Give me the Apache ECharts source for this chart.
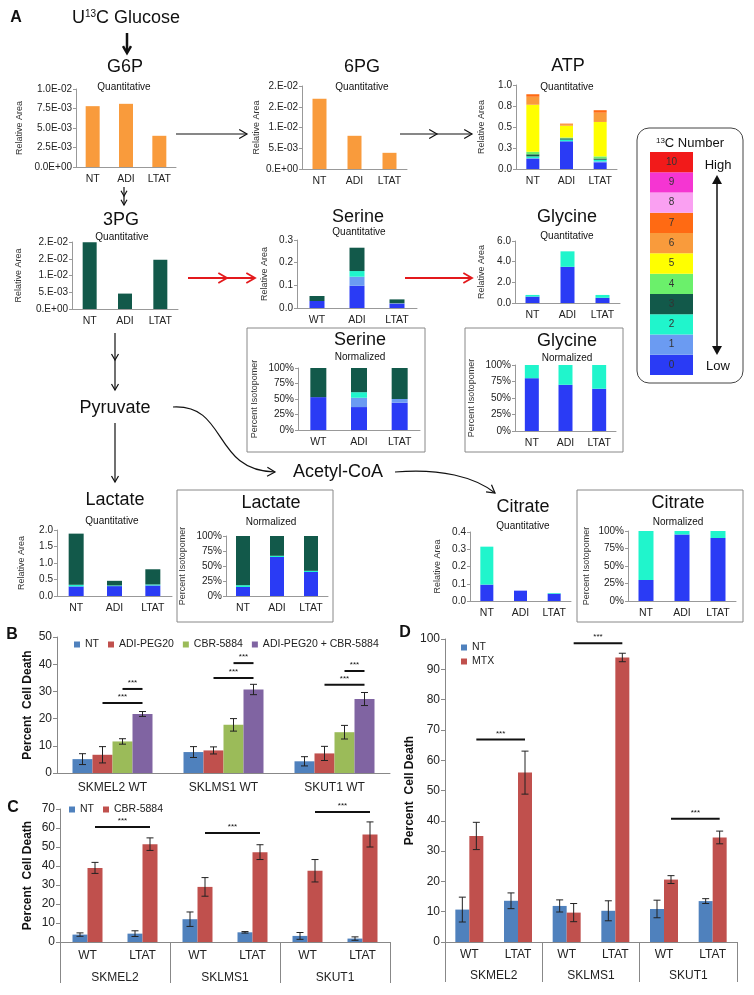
<!DOCTYPE html>
<html><head><meta charset="utf-8">
<script src="https://cdn.jsdelivr.net/npm/echarts@6/dist/echarts.min.js"></script>
<style>html,body{margin:0;padding:0;background:#fff}#c{width:754px;height:995px}</style>
</head><body><div id="c"></div>
<script>
// ---------- DATA ----------
const metCats = ['NT', 'ADI', 'LTAT'];
const serCats = ['WT', 'ADI', 'LTAT'];
const isoNumbers = [0, 1, 2, 3, 4, 5, 6, 7, 8, 9, 10];

const g6pArea = [7.8e-3, 8.1e-3, 4.0e-3];
const pg6Area = [0.0169, 0.0080, 0.0039];
const pg3Area = [0.0199, 0.0046, 0.0147];

const atpM0 = [0.12, 0.33, 0.08];
const atpM1 = [0.01, 0.0, 0.01];
const atpM2 = [0.02, 0.02, 0.02];
const atpM3 = [0.025, 0.015, 0.015];
const atpM4 = [0.03, 0.01, 0.025];
const atpM5 = [0.56, 0.14, 0.41];
const atpM6 = [0.095, 0.02, 0.11];
const atpM7 = [0.03, 0.005, 0.03];

const serM0 = [0.031, 0.098, 0.019];
const serM1 = [0.0, 0.040, 0.002];
const serM2 = [0.0, 0.025, 0.0];
const serM3 = [0.022, 0.103, 0.017];
const serN0 = [53, 37, 44];
const serN1 = [0, 15, 6];
const serN2 = [0, 9, 0];
const serN3 = [47, 39, 50];

const glyM0 = [0.62, 3.5, 0.5];
const glyM2 = [0.16, 1.5, 0.28];
const glyN0 = [80, 70, 64];
const glyN2 = [20, 30, 36];

const lacM0 = [0.29, 0.30, 0.32];
const lacM2 = [0.05, 0.02, 0.03];
const lacM3 = [1.55, 0.14, 0.46];
const lacN0 = [15, 65, 40];
const lacN2 = [3, 2, 2];
const lacN3 = [82, 33, 58];

const citM0 = [0.095, 0.06, 0.042];
const citM2 = [0.22, 0.0, 0.004];
const citN0 = [30, 95, 90];
const citN2 = [70, 5, 10];

// Panel B
const cellLinesB = ['SKMEL2 WT', 'SKLMS1 WT', 'SKUT1 WT'];
const bNT = [5.1, 7.7, 4.3],      bNTerr = [2.0, 2.0, 1.7];
const bADI = [6.7, 8.3, 7.2],     bADIerr = [3.0, 1.3, 2.6];
const bCBR = [11.6, 17.7, 15.0],  bCBRerr = [1.0, 2.3, 2.5];
const bCombo = [21.7, 30.7, 27.2], bComboErr = [0.9, 1.9, 2.4];
const sigB = [[0,1,0,3,25.7],[0,2,0,3,30.9],[1,1,1,3,34.9],[1,2,1,3,40.4],[2,1,2,3,32.4],[2,2,2,3,37.5]];

// Panels C, D
const genotypes = ['WT', 'LTAT', 'WT', 'LTAT', 'WT', 'LTAT'];
const cellLines = ['SKMEL2', 'SKLMS1', 'SKUT1'];
const cNT = [3.9, 4.4, 12.0, 5.1, 3.2, 1.8],     cNTerr = [0.9, 1.5, 3.8, 0.4, 1.8, 0.9];
const cCBR = [39.0, 51.5, 29.0, 47.3, 37.5, 56.6], cCBRerr = [2.9, 3.3, 4.9, 3.9, 5.9, 6.6];
const sigC = [[0,1,1,1,60.5],[2,1,3,1,57.4],[4,1,5,1,68.4]];
const dNT = [10.7, 13.6, 11.9, 10.3, 10.9, 13.5],  dNTerr = [4.1, 2.6, 2.0, 3.3, 2.9, 0.8];
const dMTX = [35.0, 55.9, 9.7, 93.9, 20.6, 34.5],  dMTXerr = [4.5, 7.1, 3.0, 1.4, 1.3, 2.1];
const sigD = [[0,1,1,1,66.8],[2,1,3,1,98.6],[4,1,5,1,40.7]];

// ---------- STYLE ----------
const FONT = '"Liberation Sans", Arial, Helvetica, sans-serif';
const isoColors = ['#2A3BF5','#6B9BF2','#20F5CC','#12594A','#6BF06B','#FFFF00','#F99B3C','#FF6A13','#FAA0F2','#F535D2','#F21A1A'];
const cBlue = '#4F81BD', cRed = '#C0504D', cGreen = '#9BBB59', cPurple = '#8064A2';

function fmtE(v, d) {
  if (Math.abs(v) < 1e-12) return (d ? (0).toFixed(d) : '0.') + 'E+00';
  let e = Math.floor(Math.log10(Math.abs(v)) + 1e-9);
  let m = v / Math.pow(10, e);
  let r = Math.round(m * Math.pow(10, d) + 1e-9) / Math.pow(10, d);
  if (r >= 10) { r /= 10; e++; }
  const ms = d ? r.toFixed(d) : r + '.';
  return ms + 'E' + (e < 0 ? '-' : '+') + String(Math.abs(e)).padStart(2, '0');
}
const F = {
  e1: v => fmtE(v, 1), e0: v => fmtE(v, 0), f1: v => v.toFixed(1), pct: v => Math.round(v) + '%'
};

const gridDefs = [
  [76, 89, 100, 78],   // 0 G6P
  [302, 86, 105, 83],  // 1 6PG
  [516, 85, 101, 84],  // 2 ATP
  [72, 242, 106, 67],  // 3 3PG
  [297, 240, 120, 68], // 4 Serine Q
  [515, 241, 105, 62], // 5 Glycine Q
  [298, 368, 122, 62], // 6 Serine N
  [515, 365, 101, 66], // 7 Glycine N
  [57, 530, 115, 66],  // 8 Lactate Q
  [226, 536, 102, 60], // 9 Lactate N
  [470, 532, 101, 69], // 10 Citrate Q
  [628, 531, 108, 70], // 11 Citrate N
  [57, 637, 333, 136], // 12 B
  [60, 809, 330, 133], // 13 C
  [445, 639, 292, 303],// 14 D
  [650, 152, 43, 223]  // 15 iso key
];

const RA = 'Relative Area', PI = 'Percent Isotopomer';
const aCharts = [
  {cats: metCats, min: 0, max: 0.01, step: 0.0025, fmt: F.e1, name: RA, gap: 51.5, bw: 14, layers: [[6, g6pArea]]},
  {cats: metCats, min: 0, max: 0.02, step: 0.005, fmt: F.e0, name: RA, gap: 40.5, bw: 14, layers: [[6, pg6Area]]},
  {cats: metCats, min: 0, max: 1.0, step: 0.25, fmt: F.f1, name: RA, gap: 29.5, bw: 13,
    layers: [[0, atpM0],[1, atpM1],[2, atpM2],[3, atpM3],[4, atpM4],[5, atpM5],[6, atpM6],[7, atpM7]]},
  {cats: metCats, min: 0, max: 0.02, step: 0.005, fmt: F.e0, name: RA, gap: 48.5, bw: 14, layers: [[3, pg3Area]]},
  {cats: serCats, min: 0, max: 0.3, step: 0.1, fmt: F.f1, name: RA, gap: 27.5, bw: 15,
    layers: [[0, serM0],[1, serM1],[2, serM2],[3, serM3]]},
  {cats: metCats, min: 0, max: 6, step: 2, fmt: F.f1, name: RA, gap: 28.5, bw: 14, layers: [[0, glyM0],[2, glyM2]]},
  {cats: serCats, min: 0, max: 100, step: 25, fmt: F.pct, name: PI, gap: 38.5, bw: 16,
    layers: [[0, serN0],[1, serN1],[2, serN2],[3, serN3]]},
  {cats: metCats, min: 0, max: 100, step: 25, fmt: F.pct, name: PI, gap: 38.5, bw: 14, layers: [[0, glyN0],[2, glyN2]]},
  {cats: metCats, min: 0, max: 2, step: 0.5, fmt: F.f1, name: RA, gap: 30.5, bw: 15, layers: [[0, lacM0],[2, lacM2],[3, lacM3]]},
  {cats: metCats, min: 0, max: 100, step: 25, fmt: F.pct, name: PI, gap: 38.5, bw: 14, layers: [[0, lacN0],[2, lacN2],[3, lacN3]]},
  {cats: metCats, min: 0, max: 0.4, step: 0.1, fmt: F.f1, name: RA, gap: 27.5, bw: 13, layers: [[0, citM0],[2, citM2]]},
  {cats: metCats, min: 0, max: 100, step: 25, fmt: F.pct, name: PI, gap: 36.5, bw: 15, layers: [[0, citN0],[2, citN2]]}
];

const grids = gridDefs.map(g => ({left: g[0], top: g[1], width: g[2], height: g[3], containLabel: false}));
const xAxes = [], yAxes = [], series = [];

aCharts.forEach((c, i) => {
  xAxes.push({gridIndex: i, type: 'category', data: c.cats,
    axisLine: {lineStyle: {color: '#999'}}, axisTick: {length: 3, lineStyle: {color: '#999'}},
    axisLabel: {fontSize: 10.5, color: '#222', margin: 7}});
  yAxes.push({gridIndex: i, type: 'value', min: c.min, max: c.max, interval: c.step,
    name: c.name, nameLocation: 'middle', nameRotate: 90, nameGap: c.gap,
    nameTextStyle: {fontSize: 9, color: '#333'},
    axisLine: {show: true, lineStyle: {color: '#999'}}, axisTick: {show: true, length: 3, lineStyle: {color: '#999'}},
    splitLine: {show: false}, axisLabel: {fontSize: 10, color: '#222', margin: 4, formatter: c.fmt}});
  c.layers.forEach(([k, arr]) => series.push({type: 'bar', name: 'iso' + i + '_' + k, xAxisIndex: i, yAxisIndex: i,
    stack: 's' + i, data: arr, barWidth: c.bw, itemStyle: {color: isoColors[k]}}));
});

function bigY(gi, max, gap) {
  return {gridIndex: gi, type: 'value', min: 0, max: max, interval: 10,
    name: 'Percent  Cell Death', nameLocation: 'middle', nameRotate: 90, nameGap: gap,
    nameTextStyle: {fontSize: 12, fontWeight: 'bold', color: '#111'},
    axisLine: {show: true, lineStyle: {color: '#888'}}, axisTick: {show: true, length: 4, lineStyle: {color: '#888'}},
    splitLine: {show: false}, axisLabel: {fontSize: 12, color: '#222', margin: 5}};
}
// B
xAxes.push({gridIndex: 12, type: 'category', data: cellLinesB, axisLine: {lineStyle: {color: '#888'}},
  axisTick: {length: 3, lineStyle: {color: '#888'}}, axisLabel: {fontSize: 12, color: '#222', margin: 9}});
yAxes.push(bigY(12, 50, 23));
// C
xAxes.push({gridIndex: 13, type: 'category', data: genotypes, axisLine: {lineStyle: {color: '#888'}},
  axisTick: {length: 20, interval: 0, lineStyle: {color: '#888'}}, axisLabel: {fontSize: 12, color: '#222', margin: 8}});
yAxes.push(bigY(13, 70, 26));
// D
xAxes.push({gridIndex: 14, type: 'category', data: genotypes, axisLine: {lineStyle: {color: '#888'}},
  axisTick: {length: 20, interval: 0, lineStyle: {color: '#888'}}, axisLabel: {fontSize: 12, color: '#222', margin: 7}});
yAxes.push(bigY(14, 100, 17));
// iso key
xAxes.push({gridIndex: 15, type: 'value', min: 0, max: 1, show: false});
yAxes.push({gridIndex: 15, type: 'category', data: isoNumbers.map(String), show: false});
// group axes
xAxes.push({gridIndex: 13, type: 'category', data: cellLines, position: 'bottom', axisLine: {show: false},
  axisTick: {show: true, length: 41, interval: 0, lineStyle: {color: '#888'}}, axisLabel: {fontSize: 12, color: '#222', margin: 30}});
xAxes.push({gridIndex: 14, type: 'category', data: cellLines, position: 'bottom', axisLine: {show: false},
  axisTick: {show: true, length: 40, interval: 0, lineStyle: {color: '#888'}}, axisLabel: {fontSize: 12, color: '#222', margin: 28}});

series.push({type: 'bar', xAxisIndex: 15, yAxisIndex: 15, barCategoryGap: 0, silent: true,
  data: isoNumbers.map((n, i) => ({value: 1, itemStyle: {color: isoColors[i]}})),
  label: {show: true, position: 'inside', formatter: p => p.name, fontSize: 10, color: '#333'}});

function errSeries(ax, vals, errs, off) {
  return {type: 'custom', xAxisIndex: ax, yAxisIndex: ax, z: 10, silent: true,
    data: vals.map((v, i) => [i, v, errs[i]]), encode: {x: 0, y: 1},
    renderItem: (p, api) => {
      const i = api.value(0), v = api.value(1), e = api.value(2);
      const t = api.coord([i, v + e]), b = api.coord([i, v - e]);
      const x = t[0] + off, st = {stroke: '#222', lineWidth: 1};
      return {type: 'group', children: [
        {type: 'line', shape: {x1: x, y1: t[1], x2: x, y2: b[1]}, style: st},
        {type: 'line', shape: {x1: x - 3.5, y1: t[1], x2: x + 3.5, y2: t[1]}, style: st},
        {type: 'line', shape: {x1: x - 3.5, y1: b[1], x2: x + 3.5, y2: b[1]}, style: st}]};
    }};
}
function sigSeries(ax, rows, offs) {
  return {type: 'custom', xAxisIndex: ax, yAxisIndex: ax, z: 10, silent: true, clip: false,
    data: rows, encode: {x: [0, 2], y: 4},
    renderItem: (p, api) => {
      const y = api.value(4);
      const a = api.coord([api.value(0), y]), b = api.coord([api.value(2), y]);
      const x1 = a[0] + offs[api.value(1)], x2 = b[0] + offs[api.value(3)];
      return {type: 'group', children: [
        {type: 'line', shape: {x1: x1, y1: a[1], x2: x2, y2: a[1]}, style: {stroke: '#111', lineWidth: 2}},
        {type: 'text', x: (x1 + x2) / 2, y: a[1] - 2, style: {text: '***', fontSize: 8, fontFamily: FONT, fill: '#111',
          align: 'center', verticalAlign: 'bottom', textAlign: 'center', textVerticalAlign: 'bottom'}}]};
    }};
}
function bars(ax, name, data, color, bw) {
  return {type: 'bar', name: name, xAxisIndex: ax, yAxisIndex: ax, data: data, barWidth: bw, barGap: '0%', itemStyle: {color: color}};
}
// B series
const offB = [-30, -10, 10, 30];
series.push(bars(12, 'NT#B', bNT, cBlue, 20), bars(12, 'ADI-PEG20#B', bADI, cRed, 20),
  bars(12, 'CBR-5884#B', bCBR, cGreen, 20), bars(12, 'ADI-PEG20 + CBR-5884#B', bCombo, cPurple, 20));
series.push(errSeries(12, bNT, bNTerr, offB[0]), errSeries(12, bADI, bADIerr, offB[1]),
  errSeries(12, bCBR, bCBRerr, offB[2]), errSeries(12, bCombo, bComboErr, offB[3]), sigSeries(12, sigB, offB));
// C series
const offC = [-7.5, 7.5];
series.push(bars(13, 'NT#C', cNT, cBlue, 15), bars(13, 'CBR-5884#C', cCBR, cRed, 15));
series.push(errSeries(13, cNT, cNTerr, offC[0]), errSeries(13, cCBR, cCBRerr, offC[1]), sigSeries(13, sigC, offC));
// D series
const offD = [-7, 7];
series.push(bars(14, 'NT#D', dNT, cBlue, 14), bars(14, 'MTX#D', dMTX, cRed, 14));
series.push(errSeries(14, dNT, dNTerr, offD[0]), errSeries(14, dMTX, dMTXerr, offD[1]), sigSeries(14, sigD, offD));

const legStyle = {icon: 'rect', itemWidth: 6, itemHeight: 6, textStyle: {fontSize: 10.5, color: '#222'},
  formatter: n => n.split('#')[0], selectedMode: false};
const legends = [
  Object.assign({}, legStyle, {left: 69, top: 634, itemGap: 9, data: ['NT#B', 'ADI-PEG20#B', 'CBR-5884#B', 'ADI-PEG20 + CBR-5884#B']}),
  Object.assign({}, legStyle, {left: 64, top: 799, itemGap: 9, data: ['NT#C', 'CBR-5884#C']}),
  Object.assign({}, legStyle, {left: 456, top: 637, orient: 'vertical', itemGap: 3, data: ['NT#D', 'MTX#D']})
];

// ---------- GRAPHIC (titles, arrows, boxes) ----------
function txt(x, y, s, size, extra) {
  return {type: 'text', x: x, y: y, silent: true, z: 20,
    style: Object.assign({text: s, fontSize: size, fontFamily: FONT, fill: '#111',
      align: 'center', verticalAlign: 'middle', textAlign: 'center', textVerticalAlign: 'middle'}, extra || {})};
}
function ln(x1, y1, x2, y2, col, w) {
  return {type: 'line', silent: true, shape: {x1: x1, y1: y1, x2: x2, y2: y2}, style: {stroke: col || '#111', lineWidth: w || 1.2}};
}
function chev(x, y, ang, len, col, w) {
  const a = ang * Math.PI / 180, h = 30 * Math.PI / 180;
  return {type: 'polyline', silent: true, shape: {points: [
    [x - len * Math.cos(a - h), y - len * Math.sin(a - h)], [x, y], [x - len * Math.cos(a + h), y - len * Math.sin(a + h)]]},
    style: {stroke: col || '#111', lineWidth: w || 1.2, fill: null}};
}
function box(x, y, w, h, r, col) {
  return {type: 'rect', silent: true, shape: {x: x, y: y, width: w, height: h, r: r || 0},
    style: {fill: null, stroke: col || '#888', lineWidth: 1}};
}
const RED = '#E3191C';
const graphics = [
  txt(16, 18, 'A', 16, {fontWeight: 'bold'}), txt(12, 635, 'B', 16, {fontWeight: 'bold'}),
  txt(13, 808, 'C', 16, {fontWeight: 'bold'}), txt(405, 633, 'D', 16, {fontWeight: 'bold'}),
  txt(126, 18, '{n|U}{s|13}{n|C Glucose}', 18, {rich: {n: {fontSize: 18, fontFamily: FONT, fill: '#111'}, s: {fontSize: 10, fontFamily: FONT, verticalAlign: 'top', fill: '#111'}}}),
  ln(127, 33, 127, 52, '#111', 2.5), chev(127, 53, 90, 8, '#111', 2.5),
  txt(125, 67, 'G6P', 18), txt(124, 87, 'Quantitative', 10),
  txt(362, 67, '6PG', 18), txt(362, 87, 'Quantitative', 10),
  txt(568, 66, 'ATP', 18), txt(567, 87, 'Quantitative', 10),
  ln(176, 134, 247, 134), chev(247, 134, 0, 9),
  ln(400, 134, 472, 134), chev(437, 134, 0, 9), chev(472, 134, 0, 9),
  ln(124, 187, 124, 205), chev(124, 196, 90, 6), chev(124, 205, 90, 6),
  txt(121, 220, '3PG', 18), txt(122, 237, 'Quantitative', 10),
  txt(358, 217, 'Serine', 18), txt(359, 232, 'Quantitative', 10),
  txt(567, 217, 'Glycine', 18), txt(567, 236, 'Quantitative', 10),
  ln(188, 278, 255, 278, RED, 1.8), chev(227, 278, 0, 10, RED, 1.8), chev(255, 278, 0, 10, RED, 1.8),
  ln(405, 278, 472, 278, RED, 1.8), chev(472, 278, 0, 10, RED, 1.8),
  box(247, 328, 178, 124), box(465, 328, 158, 124),
  txt(360, 340, 'Serine', 18), txt(360, 357, 'Normalized', 10),
  txt(567, 341, 'Glycine', 18), txt(567, 358, 'Normalized', 10),
  ln(115, 333, 115, 390), chev(115, 360, 90, 7), chev(115, 390, 90, 7),
  txt(115, 408, 'Pyruvate', 18),
  ln(115, 423, 115, 482), chev(115, 482, 90, 7),
  {type: 'bezierCurve', silent: true, shape: {x1: 173, y1: 407, cpx1: 228, cpy1: 404, cpx2: 212, cpy2: 471, x2: 275, y2: 472},
    style: {stroke: '#111', lineWidth: 1.2, fill: null}}, chev(275, 472, 2, 9),
  txt(338, 472, 'Acetyl-CoA', 18),
  {type: 'bezierCurve', silent: true, shape: {x1: 395, y1: 472, cpx1: 440, cpy1: 468, cpx2: 475, cpy2: 477, x2: 495, y2: 493},
    style: {stroke: '#111', lineWidth: 1.2, fill: null}}, chev(495, 493, 37, 9),
  txt(115, 500, 'Lactate', 18), txt(112, 521, 'Quantitative', 10),
  box(177, 490, 156, 132), txt(271, 503, 'Lactate', 18), txt(271, 522, 'Normalized', 10),
  txt(523, 507, 'Citrate', 18), txt(523, 526, 'Quantitative', 10),
  box(577, 490, 166, 132), txt(678, 503, 'Citrate', 18), txt(678, 522, 'Normalized', 10),
  box(637, 128, 106, 255, 12, '#444'),
  txt(690, 143, '{s|13}{n|C Number}', 13, {rich: {n: {fontSize: 13, fontFamily: FONT, fill: '#111'}, s: {fontSize: 8, fontFamily: FONT, verticalAlign: 'top', fill: '#111'}}}),
  txt(718, 165, 'High', 13), txt(718, 366, 'Low', 13),
  ln(717, 182, 717, 348, '#111', 1.5),
  {type: 'polygon', silent: true, shape: {points: [[712, 184], [717, 175], [722, 184]]}, style: {fill: '#111'}},
  {type: 'polygon', silent: true, shape: {points: [[712, 346], [717, 355], [722, 346]]}, style: {fill: '#111'}}
];

const chart = echarts.init(document.getElementById('c'), null, {renderer: 'canvas', width: 754, height: 995});
chart.setOption({
  backgroundColor: '#fff', animation: false,
  textStyle: {fontFamily: FONT},
  grid: grids, xAxis: xAxes, yAxis: yAxes, series: series, legend: legends, graphic: graphics
});
</script></body></html>
